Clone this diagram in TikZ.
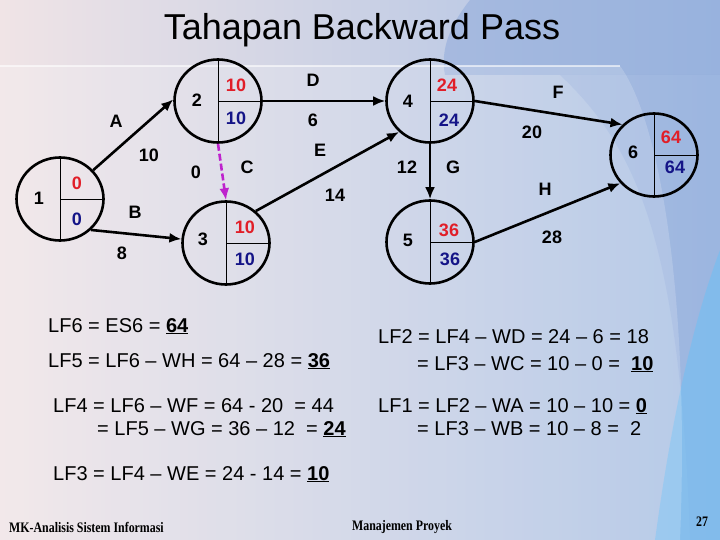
\documentclass[tikz,border=0pt]{standalone}
\usepackage{fontspec}
\setmainfont{Liberation Sans}
\newfontfamily\footfont{Liberation Serif}
\usetikzlibrary{arrows.meta,shapes.geometric}
\definecolor{valred}{RGB}{225,30,40}
\definecolor{valblue}{RGB}{20,20,135}
\definecolor{dashmag}{RGB}{190,35,205}
\definecolor{bgl}{RGB}{240,228,230}
\definecolor{bgm}{RGB}{210,228,242}
\definecolor{bgr}{RGB}{165,190,228}
\definecolor{bgdark}{RGB}{140,168,218}
\definecolor{bgsky}{RGB}{120,190,240}
\begin{document}
\begin{tikzpicture}[x=1pt,y=-1pt,
  evnode/.style={ellipse,draw=black,line width=2.6pt,minimum width=87pt,minimum height=83pt,inner sep=0pt},
  divider/.style={line width=0.9pt},
  act/.style={line width=2.6pt,-{Latex[length=12pt,width=10pt]}},
  dummy/.style={line width=2.6pt,dashed,dash pattern=on 7pt off 3pt,draw=dashmag,-{Latex[length=12pt,width=10pt]}},
  lab/.style={font=\fontsize{18}{20}\selectfont\bfseries,inner sep=0pt},
  redv/.style={lab,text=valred},
  bluev/.style={lab,text=valblue},
  eq/.style={font=\fontsize{20}{22}\selectfont,inner sep=0pt,anchor=base west},
  foot/.style={font=\footfont\fontsize{14.5}{16}\selectfont\bfseries,inner sep=0pt}]
\useasboundingbox (0,0) rectangle (720,540);
% background
\shade[left color=bgl,middle color=bgm,right color=bgr] (0,0) rectangle (720,540);
\fill[bgdark,opacity=0.5] (470,0) .. controls (450,25) and (440,50) .. (445,75) -- (720,75) -- (720,0) -- cycle;
\fill[bgdark,opacity=0.35] (560,75) .. controls (640,150) and (680,250) .. (690,540) -- (720,540) -- (720,75) -- cycle;
\fill[bgsky,opacity=0.7] (720,250) .. controls (690,330) and (670,430) .. (655,540) -- (720,540) -- cycle;
\fill[white,opacity=0.18] (0,66) -- (620,66) .. controls (660,120) and (690,300) .. (680,540) -- (0,540) -- cycle;
\draw[white,opacity=0.6,line width=1.5pt] (0,66) -- (620,66);
% title
\node[font=\fontsize{36}{40}\selectfont,inner sep=0pt] (title) at (362,30) {Tahapan Backward Pass};
% event nodes
\node[evnode] (n1) at (60,199) {};
\node[evnode] (n2) at (218,101) {};
\node[evnode] (n3) at (226,243) {};
\node[evnode] (n4) at (430,101) {};
\node[evnode] (n5) at (430,242) {};
\node[evnode] (n6) at (654,155) {};
\foreach \n in {n1,n2,n3,n4,n5,n6}{
  \draw[divider] (\n.north) -- (\n.south);
  \draw[divider] (\n.center) -- (\n.east);
}
% node contents
\node[lab] (k1) at (39,198) {1};
\node[redv] (e1) at (77,183) {0};
\node[bluev] (l1) at (77,219) {0};
\node[lab] (k2) at (197,100) {2};
\node[redv] (e2) at (236,85) {10};
\node[bluev] (l2) at (236,118) {10};
\node[lab] (k3) at (203,239) {3};
\node[redv] (e3) at (245,227) {10};
\node[bluev] (l3) at (245,259) {10};
\node[lab] (k4) at (408,101) {4};
\node[redv] (e4) at (447,85) {24};
\node[bluev] (l4) at (449,120) {24};
\node[lab] (k5) at (408,240) {5};
\node[redv] (e5) at (449,230) {36};
\node[bluev] (l5) at (450,259) {36};
\node[lab] (k6) at (633,152) {6};
\node[redv] (e6) at (671,137) {64};
\node[bluev] (l6) at (675,167) {64};
% activities
\draw[act] (n1.41) -- (n2.178);
\draw[act] (n1.-45) -- (n3.175);
\draw[dummy] (n2.south) -- (n3.north);
\draw[act] (n2.east) -- (n4.west);
\draw[act] (n3.47) -- (n4.225);
\draw[act] (n4.east) -- (n6.136);
\draw[act] (n4.south) -- (n5.north);
\draw[act] (n5.east) -- (n6.220);
% activity labels
\node[lab] (la) at (116,121) {A};
\node[lab] (wa) at (149,155) {10};
\node[lab] (lb) at (135,212) {B};
\node[lab] (wb) at (122,253) {8};
\node[lab] (wc) at (196,172) {0};
\node[lab] (lc) at (247,167) {C};
\node[lab] (ld) at (313,80) {D};
\node[lab] (wd) at (313,120) {6};
\node[lab] (le) at (320,150) {E};
\node[lab] (we) at (335,195) {14};
\node[lab] (lf) at (558,92) {F};
\node[lab] (wf) at (532,132) {20};
\node[lab] (wg) at (407,167) {12};
\node[lab] (lg) at (453,167) {G};
\node[lab] (lh) at (545,189) {H};
\node[lab] (wh) at (552,237) {28};
% equations
\node[eq] (q1) at (48,332) {LF6 = ES6 = \underline{\textbf{64}}};
\node[eq] (q2) at (48,367) {LF5 = LF6 -- WH = 64 -- 28 = \underline{\textbf{36}}};
\node[eq] (q3) at (53,412) {LF4 = LF6 -- WF = 64 - 20 ~= 44};
\node[eq] (q4) at (97,435) {= LF5 -- WG = 36 -- 12 ~= \underline{\textbf{24}}};
\node[eq] (q5) at (53,480) {LF3 = LF4 -- WE = 24 - 14 = \underline{\textbf{10}}};
\node[eq] (q6) at (378,343) {LF2 = LF4 -- WD = 24 -- 6 = 18};
\node[eq] (q7) at (417,370) {= LF3 -- WC = 10 -- 0 = ~\underline{\textbf{10}}};
\node[eq] (q8) at (378,412) {LF1 = LF2 -- WA = 10 -- 10 = \underline{\textbf{0}}};
\node[eq] (q9) at (417,435) {= LF3 -- WB = 10 -- 8 = ~2};
% footer
\node[foot,anchor=west] (f1) at (9,527) {\scalebox{0.82}[1]{MK-Analisis Sistem Informasi}};
\node[foot] (f2) at (402,527) {\scalebox{0.82}[1]{Manajemen Proyek}};
\node[foot] (f3) at (702,522) {\scalebox{0.82}[1]{27}};
\end{tikzpicture}
\end{document}
